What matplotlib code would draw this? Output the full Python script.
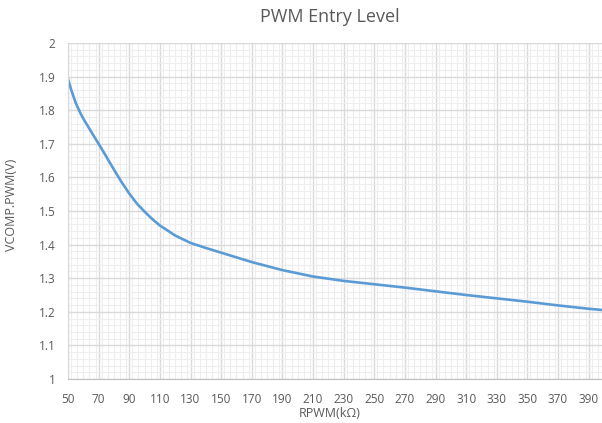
import matplotlib
matplotlib.use("Agg")
import matplotlib.pyplot as plt
from matplotlib.ticker import MultipleLocator

plt.rcParams['font.family'] = ['Open Sans', 'DejaVu Sans']

rpwm = [50, 52, 55, 58, 60, 65, 70, 75, 80, 85, 90, 95, 100, 105, 110, 120, 130, 140,
        150, 170, 190, 210, 230, 250, 270, 290, 310, 330, 350, 370, 390, 400]
vcomp = [1.893, 1.862, 1.822, 1.792, 1.775, 1.737, 1.70, 1.662, 1.623, 1.586, 1.552,
         1.522, 1.498, 1.476, 1.457, 1.427, 1.405, 1.390, 1.376, 1.348, 1.324, 1.305,
         1.292, 1.282, 1.272, 1.261, 1.250, 1.240, 1.230, 1.219, 1.209, 1.205]
xticks = list(range(50, 391, 20))
yticks = [1, 1.1, 1.2, 1.3, 1.4, 1.5, 1.6, 1.7, 1.8, 1.9, 2]
ytick_labels = ['1', '1.1', '1.2', '1.3', '1.4', '1.5', '1.6', '1.7', '1.8', '1.9', '2']

W, H = 602, 423
fig = plt.figure(figsize=(W / 100, H / 100), dpi=100)
ax = fig.add_axes([68 / W, (H - 379) / H, (604 - 68) / W, (379 - 43) / H])

ax.plot(rpwm, vcomp, color='#5B9BD5', lw=1.9, solid_capstyle='round',
        solid_joinstyle='round')
ax.set_xlim(50, 400)
ax.set_ylim(1, 2)
ax.set_xticks(xticks)
ax.set_yticks(yticks)
ax.set_yticklabels(ytick_labels)
ax.xaxis.set_minor_locator(MultipleLocator(4))
ax.yaxis.set_minor_locator(MultipleLocator(0.02))
ax.grid(which='major', color='#d9d9d9', lw=1.0)
ax.grid(which='minor', color='#eeeeee', lw=0.8)
ax.set_axisbelow(True)
ax.tick_params(which='both', length=0, labelsize=8.5, colors='#595959')
ax.tick_params(axis='x', pad=10)
ax.tick_params(axis='y', pad=9)
for s in ['top', 'right']:
    ax.spines[s].set_visible(False)
ax.spines['left'].set_color('#d9d9d9')
ax.spines['bottom'].set_color('#bfbfbf')

fig.text(330 / W, 1 - 17 / H, 'PWM Entry Level', ha='center', va='center',
         fontsize=13, color='#595959')
fig.text(330 / W, 1 - 413 / H, 'RPWM(kΩ)', ha='center', va='center',
         fontsize=9, color='#595959')
fig.text(12 / W, 1 - 205 / H, 'VCOMP.PWM(V)', ha='center', va='center',
         fontsize=9, color='#595959', rotation=90)

fig.savefig('out.png', dpi=100, facecolor='white')
